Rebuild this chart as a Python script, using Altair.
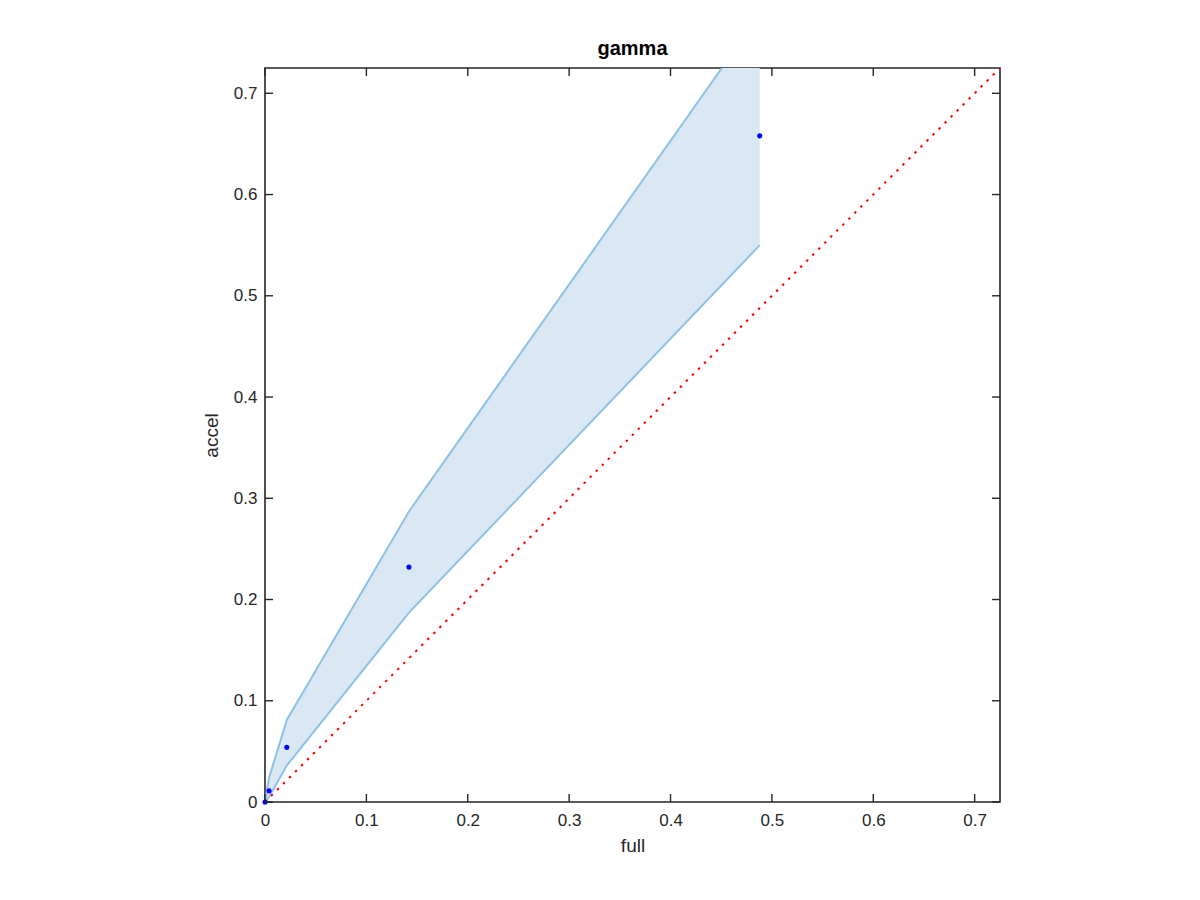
import altair as alt
import pandas as pd

# ---- data ----
full = [0.0, 0.004, 0.0215, 0.142, 0.488]
accel = [0.0, 0.011, 0.054, 0.232, 0.658]
upper = [0.0, 0.024, 0.081, 0.287, 0.778]
lower = [0.0, 0.005, 0.036, 0.187, 0.550]
diag = [0.0, 0.725]
tick_vals = [0, 0.1, 0.2, 0.3, 0.4, 0.5, 0.6, 0.7]

W, H = 735, 734
FONT = "Liberation Sans"
INK = "#262626"

df_pts = pd.DataFrame({"full": full, "accel": accel})
df_band = pd.DataFrame({"full": full, "upper": upper, "lower": lower})
df_diag = pd.DataFrame({"x": diag, "y": diag})
df_ticks = pd.DataFrame({"t": tick_vals})

xs = alt.Scale(domain=[0, 0.725], nice=False, zero=False)
ys = alt.Scale(domain=[0, 0.725], nice=False, zero=False)

axis_common = dict(
    values=tick_vals, format="~g", domain=False, ticks=False, grid=False,
    labelFont=FONT, labelFontSize=17, labelColor=INK, labelFlush=False,
    labelOverlap=False, titleFont=FONT, titleFontSize=19,
    titleFontWeight="normal", titleColor=INK,
)
x_axis = alt.Axis(title="full", labelPadding=10, titlePadding=8, **axis_common)
y_axis = alt.Axis(title="accel", labelPadding=8, titlePadding=12, **axis_common)


def X(f):
    return alt.X(f, type="quantitative", scale=xs, axis=x_axis)


def Y(f):
    return alt.Y(f, type="quantitative", scale=ys, axis=y_axis)


band = alt.Chart(df_band).mark_area(color="#d9e8f3", opacity=1, clip=True).encode(
    x=X("full"), y=Y("lower"), y2="upper:Q",
)
up_line = alt.Chart(df_band).mark_line(color="#8ec1e4", strokeWidth=2, clip=True).encode(
    x=X("full"), y=Y("upper"),
)
lo_line = alt.Chart(df_band).mark_line(color="#8ec1e4", strokeWidth=2, clip=True).encode(
    x=X("full"), y=Y("lower"),
)
diag_line = alt.Chart(df_diag).mark_line(
    color="#ff0000", strokeWidth=2, strokeDash=[2.5, 6], clip=True
).encode(x=X("x"), y=Y("y"))
pts = alt.Chart(df_pts).mark_point(filled=True, color="#0000ff", size=26, opacity=1).encode(
    x=X("full"), y=Y("accel"),
)

TL = 8
tb = alt.Chart(df_ticks).mark_rule(color=INK, strokeWidth=1.4).encode(
    x=X("t"), y=alt.value(H), y2=alt.value(H - TL))
tt = alt.Chart(df_ticks).mark_rule(color=INK, strokeWidth=1.4).encode(
    x=X("t"), y=alt.value(0), y2=alt.value(TL))
tl = alt.Chart(df_ticks).mark_rule(color=INK, strokeWidth=1.4).encode(
    y=Y("t"), x=alt.value(0), x2=alt.value(TL))
tr = alt.Chart(df_ticks).mark_rule(color=INK, strokeWidth=1.4).encode(
    y=Y("t"), x=alt.value(W), x2=alt.value(W - TL))

chart = alt.layer(band, up_line, lo_line, diag_line, pts, tb, tt, tl, tr).properties(
    width=W, height=H,
    title=alt.TitleParams("gamma", font=FONT, fontSize=20, fontWeight="bold",
                          color="#000000", anchor="middle", offset=8),
    autosize=alt.AutoSizeParams(type="none"),
    padding={"left": 257, "top": 60, "right": 180, "bottom": 80},
    background="white",
).configure_view(stroke=INK, strokeWidth=1.6)

chart.save("out.html", embed_options={"renderer": "svg", "actions": False})
